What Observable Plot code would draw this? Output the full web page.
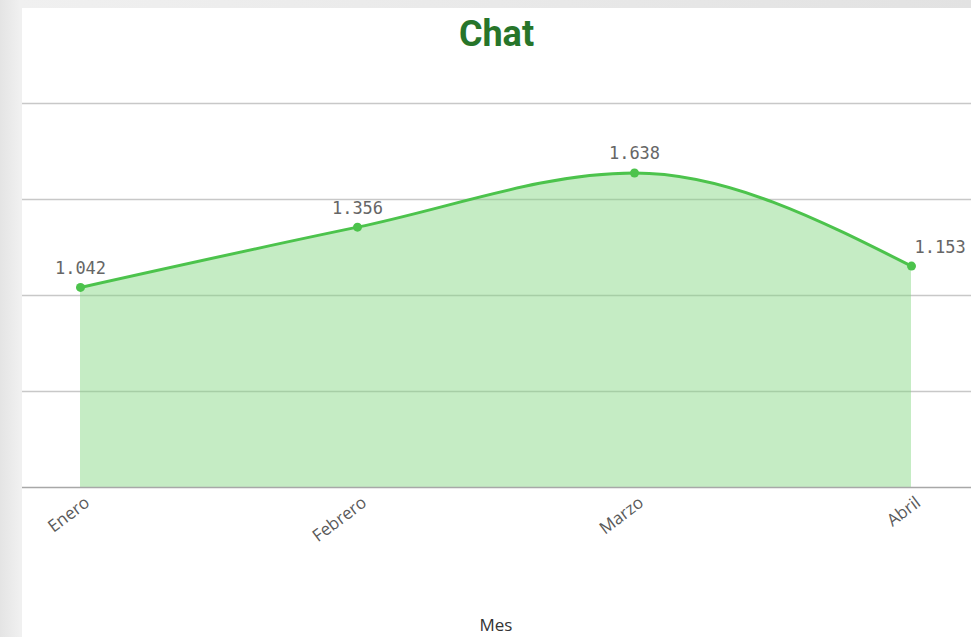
<!DOCTYPE html>
<html>
<head>
<meta charset="utf-8">
<script src="https://cdn.jsdelivr.net/npm/d3@7"></script>
<script src="https://cdn.jsdelivr.net/npm/@observablehq/plot@0.6"></script>
<style>
  html, body { margin: 0; padding: 0; width: 971px; height: 637px; overflow: hidden;
    background: linear-gradient(90deg, #e4e4e4 0px, #f0f0f0 20px, #e2e2e2 971px); font-family: "Open Sans", sans-serif; }
  #panel { position: absolute; left: 22px; top: 8px; width: 949px; height: 629px; background: #fff; }
  #title { position: absolute; left: 0; top: 0; width: 949px; height: 62px; text-align: center;
    font-family: "Liberation Sans Narrow", "Roboto", sans-serif; font-weight: bold; font-size: 36px;
    color: #27752a; line-height: 52px; }
  #chart { position: absolute; left: 0; top: 62px; }
</style>
</head>
<body>
<div id="panel">
  <div id="title">Chat</div>
  <div id="chart"></div>
</div>
<script>
const months = ["Enero", "Febrero", "Marzo", "Abril"];
const values = [1.042, 1.356, 1.638, 1.153];
const yTicks = [0, 0.5, 1, 1.5, 2];
const xLabel = "Mes";

const data = months.map((m, i) => ({mes: m, valor: values[i], i}));
const fmt = d3.format(".3f");

const W = 949, H = 567;
const mL = 58, mR = 60;

const plot = Plot.plot({
  width: W,
  height: H,
  marginTop: 33,
  marginBottom: 150,
  marginLeft: mL,
  marginRight: mR,
  style: {fontFamily: "'Open Sans', sans-serif", background: "transparent"},
  x: {type: "point", domain: months, padding: 0, label: null},
  y: {domain: [0, 2], axis: null},
  marks: [
    Plot.ruleY(yTicks.filter(d => d > 0), {stroke: "#c8c8c8", strokeWidth: 1.3, strokeOpacity: 1, insetLeft: -mL, insetRight: -mR}),
    Plot.areaY(data, {x: "mes", y: "valor", curve: "monotone-x", fill: "#7fd47d", fillOpacity: 0.45}),
    Plot.ruleY([0], {stroke: "#a8a8a8", strokeWidth: 1.5, insetLeft: -mL, insetRight: -mR}),
    Plot.lineY(data, {x: "mes", y: "valor", curve: "monotone-x", stroke: "#4cc34c", strokeWidth: 3}),
    Plot.dot(data, {x: "mes", y: "valor", r: 4.5, fill: "#4cc34c", stroke: null}),
    Plot.text(data.filter(d => d.i < 3), {x: "mes", y: "valor", text: d => fmt(d.valor), dy: -19,
      fill: "#666", fontSize: 17, fontFamily: "'DejaVu Sans Mono', monospace"}),
    Plot.text(data.filter(d => d.i === 3), {x: "mes", y: "valor", text: d => fmt(d.valor), dy: -19, dx: 3,
      textAnchor: "start", fill: "#666", fontSize: 17, fontFamily: "'DejaVu Sans Mono', monospace"}),
    Plot.axisX({tickSize: 0, tickRotate: -37, fontSize: 17, fill: "#5a5a5a", tickPadding: 13, dx: 7, label: null}),
    Plot.text([xLabel], {frameAnchor: "bottom", dy: 143, fontSize: 17, fill: "#333"})
  ]
});
document.getElementById("chart").appendChild(plot);
</script>
</body>
</html>
